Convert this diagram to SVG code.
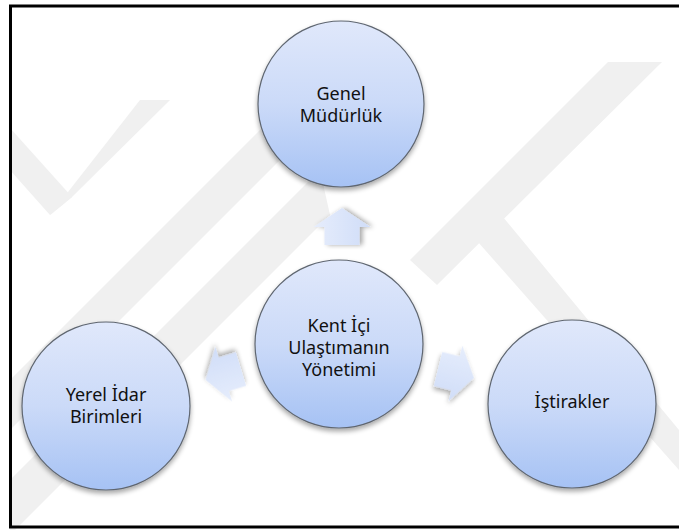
<svg xmlns="http://www.w3.org/2000/svg" width="679" height="530" viewBox="0 0 679 530">
  <style>
    .wm { fill: #f0f0f0; }
    .node circle { fill: url(#ballFill); stroke: #5f6670; stroke-width: 1.2; filter: url(#soft); }
    .node text { font-family: "Noto Sans", "Open Sans", "Liberation Sans", sans-serif; font-size: 18px; fill: #111; text-anchor: middle; }
    .arrow { fill: url(#arrowFill); filter: url(#soft); }
  </style>
  <defs>
    <linearGradient id="ballFill" x1="0" y1="0" x2="0" y2="1">
      <stop offset="0" stop-color="#e0e8fb"/>
      <stop offset="0.5" stop-color="#cbdaf8"/>
      <stop offset="1" stop-color="#a6c2f4"/>
    </linearGradient>
    <linearGradient id="arrowFill" x1="0" y1="0" x2="0" y2="1">
      <stop offset="0" stop-color="#e6edfc"/>
      <stop offset="1" stop-color="#d0ddf8"/>
    </linearGradient>
    <filter id="soft" x="-20%" y="-20%" width="140%" height="150%">
      <feGaussianBlur in="SourceAlpha" stdDeviation="2.5"/>
      <feOffset dx="0" dy="3" result="b"/>
      <feComponentTransfer><feFuncA type="linear" slope="0.35"/></feComponentTransfer>
      <feMerge><feMergeNode/><feMergeNode in="SourceGraphic"/></feMerge>
    </filter>
    <!-- block arrow pointing along +x, base centred on the origin -->
    <polygon id="blockArrow" points="0,-17.5 18,-17.5 18,-28.5 37,0 18,28.5 18,17.5 0,17.5"/>
  </defs>

  <rect x="0" y="0" width="679" height="530" fill="#ffffff"/>

  <!-- faint background watermark bands -->
  <g id="watermark">
    <!-- left V -->
    <polygon class="wm" points="10,128 10,170 50,215 72,197"/>
    <polygon class="wm" points="50,215 72,197 170,100 140,100 "/>
    <!-- long diagonal bands -->
    <polygon class="wm" points="10,380 10,430 300,140 280,110"/>
    <polygon class="wm" points="10,480 10,530 15,530 330,215 320,170"/>
    <!-- right chevron -->
    <polygon class="wm" points="608,62 662,62 437,285 410,260"/>
    <polygon class="wm" points="503,217 478,242 679,470 679,430"/>
  </g>

  <!-- frame -->
  <rect x="10.5" y="6" width="690" height="521" fill="none" stroke="#000" stroke-width="3"/>

  <!-- connectors -->
  <g id="connectors">
    <use href="#blockArrow" class="arrow" transform="translate(342,245) rotate(-90)"/>
    <use href="#blockArrow" class="arrow" transform="translate(241,369) rotate(163)"/>
    <use href="#blockArrow" class="arrow" transform="translate(438,369) rotate(14)"/>
  </g>

  <g id="node-genel" class="node">
    <circle cx="341" cy="104" r="83"/>
    <text x="341" y="100">Genel</text>
    <text x="341" y="122">Müdürlük</text>
  </g>

  <g id="node-kent" class="node">
    <circle cx="339" cy="344" r="84"/>
    <text x="339" y="332">Kent İçi</text>
    <text x="339" y="354">Ulaştımanın</text>
    <text x="339" y="376">Yönetimi</text>
  </g>

  <g id="node-yerel" class="node">
    <circle cx="106" cy="406" r="84"/>
    <text x="106" y="401">Yerel İdar</text>
    <text x="106" y="423">Birimleri</text>
  </g>

  <g id="node-istirakler" class="node">
    <circle cx="572" cy="404" r="84"/>
    <text x="572" y="408">İştirakler</text>
  </g>
</svg>
